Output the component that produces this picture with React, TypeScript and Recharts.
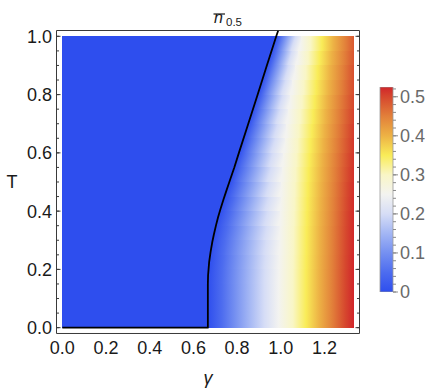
import React from 'react';
import { ComposedChart, BarChart, Bar, XAxis, YAxis, Area, Line, ReferenceArea, Label } from 'recharts';

const FONT = '"Liberation Sans", Arial, Helvetica, sans-serif';
const FRAME = '#3a3a3a';
const TINY = 0.01;

// ---- data extents ----
const gammaMax = 4 / 3;
const tMax = 1;
const xDomain: [number, number] = [-0.02667, 1.36];
const yDomain: [number, number] = [-0.02, 1.02];

// ---- tick labels ----
const xMajorTicks = [0, 0.2, 0.4, 0.6, 0.8, 1.0, 1.2];
const xMinorTicks = [0, 0.05, 0.1, 0.15, 0.2, 0.25, 0.3, 0.35, 0.4, 0.45, 0.5, 0.55, 0.6, 0.65, 0.7, 0.75, 0.8, 0.85, 0.9, 0.95, 1.0, 1.05, 1.1, 1.15, 1.2, 1.25, 1.3, 1.35];
const yMajorTicks = [0, 0.2, 0.4, 0.6, 0.8, 1.0];
const yMinorTicks = [0, 0.05, 0.1, 0.15, 0.2, 0.25, 0.3, 0.35, 0.4, 0.45, 0.5, 0.55, 0.6, 0.65, 0.7, 0.75, 0.8, 0.85, 0.9, 0.95, 1.0];
const barTicks = [0, 0.1, 0.2, 0.3, 0.4, 0.5];
const barMinorTicks = [0, 0.02, 0.04, 0.06, 0.08, 0.1, 0.12, 0.14, 0.16, 0.18, 0.2, 0.22, 0.24, 0.26, 0.28, 0.3, 0.32, 0.34, 0.36, 0.38, 0.4, 0.42, 0.44, 0.46, 0.48, 0.5, 0.52];
const barMax = 0.525;
const legendData = [{ name: 'n', v: barMax }];

// ---- colour map (value -> colour) ----
const cmapValues = [0, 0.05, 0.1, 0.15, 0.2, 0.25, 0.3, 0.35, 0.4, 0.45, 0.5, 0.525];
const cmapColors = ['#2e4eee', '#4d6cef', '#7590f1', '#a3b6f4', '#d6ddf6', '#f3f3f0', '#f9f6c6', '#f9ec58', '#edb245', '#e2803a', '#d6472e', '#d1262b'];

// ---- density field: for each T row, gamma where the value reaches each level ----
const levelValues = [0, 0.05, 0.1, 0.15, 0.2, 0.25, 0.3, 0.35, 0.4, 0.45, 0.5];
const rowT = [0.025, 0.075, 0.125, 0.175, 0.225, 0.275, 0.325, 0.375, 0.425, 0.475, 0.525, 0.575, 0.625, 0.675, 0.725, 0.775, 0.825, 0.875, 0.925, 0.975];
const rowLevels = [
  [0.666, 0.73, 0.79, 0.855, 0.925, 0.99, 1.055, 1.115, 1.175, 1.235, 1.295],
  [0.666, 0.73, 0.79, 0.855, 0.925, 0.99, 1.055, 1.115, 1.175, 1.235, 1.295],
  [0.666, 0.73, 0.79, 0.855, 0.925, 0.99, 1.055, 1.115, 1.175, 1.235, 1.295],
  [0.667, 0.731, 0.791, 0.856, 0.926, 0.991, 1.055, 1.115, 1.175, 1.235, 1.295],
  [0.672, 0.735, 0.794, 0.858, 0.927, 0.992, 1.056, 1.116, 1.176, 1.236, 1.296],
  [0.68, 0.74, 0.798, 0.861, 0.929, 0.994, 1.057, 1.117, 1.177, 1.237, 1.297],
  [0.692, 0.749, 0.806, 0.865, 0.931, 0.995, 1.058, 1.118, 1.178, 1.238, 1.299],
  [0.71, 0.762, 0.815, 0.871, 0.933, 0.997, 1.06, 1.12, 1.18, 1.24, 1.3],
  [0.731, 0.777, 0.826, 0.879, 0.937, 0.999, 1.062, 1.122, 1.182, 1.242, 1.303],
  [0.753, 0.792, 0.838, 0.888, 0.941, 1.001, 1.064, 1.124, 1.184, 1.244, 1.305],
  [0.776, 0.809, 0.852, 0.898, 0.947, 1.005, 1.067, 1.127, 1.187, 1.247, 1.309],
  [0.797, 0.828, 0.867, 0.909, 0.955, 1.01, 1.071, 1.131, 1.19, 1.25, 1.313],
  [0.819, 0.848, 0.884, 0.923, 0.966, 1.017, 1.076, 1.136, 1.195, 1.255, 1.318],
  [0.84, 0.867, 0.901, 0.937, 0.977, 1.025, 1.082, 1.142, 1.2, 1.26, 1.322],
  [0.862, 0.887, 0.918, 0.951, 0.988, 1.033, 1.089, 1.148, 1.206, 1.265, 1.328],
  [0.883, 0.907, 0.935, 0.966, 1.001, 1.042, 1.097, 1.155, 1.212, 1.271],
  [0.905, 0.927, 0.952, 0.981, 1.013, 1.052, 1.105, 1.162, 1.219, 1.278],
  [0.926, 0.947, 0.971, 0.998, 1.027, 1.064, 1.114, 1.169, 1.225, 1.284],
  [0.947, 0.968, 0.991, 1.016, 1.042, 1.077, 1.125, 1.178, 1.232, 1.29],
  [0.968, 0.988, 1.01, 1.033, 1.057, 1.09, 1.136, 1.188, 1.24, 1.296],
];
const rowEdge = [0.525, 0.525, 0.525, 0.525, 0.524, 0.523, 0.522, 0.521, 0.52, 0.518, 0.516, 0.514, 0.511, 0.508, 0.505, 0.499, 0.496, 0.492, 0.487, 0.483];
const SPLIT = 5; // index of the 0.25 level: near-boundary part follows the contour's slant

// ---- boundary contour (gamma_c vs T) ----
const curveT = [0, 0.15, 0.18, 0.226, 0.26, 0.295, 0.32, 0.352, 0.38, 0.409, 0.44, 0.466, 0.506, 0.55, 0.6, 0.7, 0.8, 0.9, 1.0, 1.02];
const curveGamma = [0.666, 0.666, 0.667, 0.672, 0.6785, 0.6865, 0.6935, 0.7035, 0.713, 0.7245, 0.7375, 0.749, 0.767, 0.787, 0.808, 0.851, 0.894, 0.936, 0.979, 0.988];

const lineData = [{ g: 0, T: 0 }, ...curveT.map((t, i) => ({ g: curveGamma[i], T: t }))];
const areaData = [
  { g: 0, T: tMax },
  ...curveT
    .map((t, i) => ({ g: curveGamma[i], T: t }))
    .filter((p) => p.T <= tMax)
    .reverse(),
];

function hexToRgb(h: string) {
  const n = parseInt(h.slice(1), 16);
  return [(n >> 16) & 255, (n >> 8) & 255, n & 255];
}
function cmap(v: number) {
  if (v <= cmapValues[0]) return cmapColors[0];
  const last = cmapValues.length - 1;
  if (v >= cmapValues[last]) return cmapColors[last];
  let k = 0;
  while (v > cmapValues[k + 1]) k++;
  const f = (v - cmapValues[k]) / (cmapValues[k + 1] - cmapValues[k]);
  const a = hexToRgb(cmapColors[k]);
  const b = hexToRgb(cmapColors[k + 1]);
  const c = a.map((x, i) => Math.round(x + (b[i] - x) * f));
  return `rgb(${c[0]},${c[1]},${c[2]})`;
}

const stripLo = (i: number) => (i === 0 ? 0 : (rowT[i - 1] + rowT[i]) / 2);
const stripHi = (i: number) => (i === rowT.length - 1 ? tMax : (rowT[i] + rowT[i + 1]) / 2);
const splitG = (i: number) => rowLevels[i][SPLIT];
const slopeAt = (i: number) => {
  const a = Math.max(0, i - 1);
  const b = Math.min(rowT.length - 1, i + 1);
  return (rowLevels[b][0] - rowLevels[a][0]) / (rowT[b] - rowT[a]);
};
const skewFor = (i: number) => {
  const du = (slopeAt(i) * (stripHi(i) - stripLo(i))) / splitG(i);
  return `translate(${du / 2} 0) skewX(${(-Math.atan(du) * 180) / Math.PI})`;
};

const fmt1 = (v: number) => v.toFixed(1);
const fmtBar = (v: number) => (v === 0 ? '0' : String(v));
const EmptyTick = () => <g />;
const StripShape = (p: any) => (
  <rect x={p.x} y={p.y} width={p.width} height={p.height} fill={p.fill} shapeRendering="crispEdges" />
);

const labelStyle = { fill: '#1a1a1a', fontSize: 18, fontFamily: FONT };
const MARGIN = { top: 30.5, right: 74.5, bottom: 56.5, left: 56.5 };

export default function App() {
  return (
    <div style={{ position: 'absolute', left: 0, top: 0, width: 434, height: 390, background: '#fff', fontFamily: FONT }}>
      <svg width={0} height={0} style={{ position: 'absolute' }}>
        <defs>
          {rowLevels.map((lv, i) => (
            <linearGradient key={`n${i}`} id={`near${i}`} x1="0" y1="0" x2="1" y2="0" gradientTransform={skewFor(i)}>
              {lv.slice(0, SPLIT + 1).map((g, k) => (
                <stop key={k} offset={g / splitG(i)} stopColor={cmap(levelValues[k])} />
              ))}
            </linearGradient>
          ))}
          {rowLevels.map((lv, i) => (
            <linearGradient key={`f${i}`} id={`far${i}`} x1="0" y1="0" x2="1" y2="0">
              {lv.slice(SPLIT).map((g, k) => (
                <stop key={k} offset={(g - splitG(i)) / (gammaMax - splitG(i))} stopColor={cmap(levelValues[k + SPLIT])} />
              ))}
              <stop offset={1} stopColor={cmap(rowEdge[i])} />
            </linearGradient>
          ))}
          <linearGradient id="cbar" x1="0" y1="1" x2="0" y2="0">
            {cmapValues.map((v, k) => (
              <stop key={k} offset={v / barMax} stopColor={cmapColors[k]} />
            ))}
          </linearGradient>
        </defs>
      </svg>

      {/* base: density strips and frame */}
      <div style={{ position: 'absolute', left: 0, top: 0 }}>
        <ComposedChart width={434} height={390} margin={MARGIN}>
          <XAxis xAxisId={0} type="number" dataKey="g" domain={xDomain} allowDataOverflow ticks={xMajorTicks} interval={0}
            height={TINY} tickLine={false} tickSize={0} tickMargin={7.5} axisLine={{ stroke: FRAME }} tick={labelStyle} tickFormatter={fmt1}>
            <Label value="γ" position="bottom" offset={38} style={{ fontStyle: 'italic', fontSize: 18, fill: '#1a1a1a', fontFamily: FONT }} />
          </XAxis>
          <XAxis xAxisId="bMaj" type="number" domain={xDomain} allowDataOverflow ticks={xMajorTicks} interval={0} orientation="bottom" mirror height={TINY} tick={EmptyTick} tickSize={4} axisLine={false} tickLine={{ stroke: FRAME }} />
          <XAxis xAxisId="bMin" type="number" domain={xDomain} allowDataOverflow ticks={xMinorTicks} interval={0} orientation="bottom" mirror height={TINY} tick={EmptyTick} tickSize={2.5} axisLine={false} tickLine={{ stroke: FRAME }} />
          <XAxis xAxisId="tMaj" type="number" domain={xDomain} allowDataOverflow ticks={xMajorTicks} interval={0} orientation="top" mirror height={TINY} tick={EmptyTick} tickSize={4} axisLine={{ stroke: FRAME }} tickLine={{ stroke: FRAME }} />
          <XAxis xAxisId="tMin" type="number" domain={xDomain} allowDataOverflow ticks={xMinorTicks} interval={0} orientation="top" mirror height={TINY} tick={EmptyTick} tickSize={2.5} axisLine={false} tickLine={{ stroke: FRAME }} />

          <YAxis yAxisId={0} type="number" domain={yDomain} allowDataOverflow ticks={yMajorTicks} interval={0}
            width={TINY} tickLine={false} tickSize={0} tickMargin={4.5} axisLine={{ stroke: FRAME }} tick={labelStyle} tickFormatter={fmt1}>
            <Label value="T" position="left" offset={39} style={{ fontSize: 18, fill: '#1a1a1a', fontFamily: FONT }} />
          </YAxis>
          <YAxis yAxisId="lMaj" type="number" domain={yDomain} allowDataOverflow ticks={yMajorTicks} interval={0} orientation="left" mirror width={TINY} tick={EmptyTick} tickSize={4} axisLine={false} tickLine={{ stroke: FRAME }} />
          <YAxis yAxisId="lMin" type="number" domain={yDomain} allowDataOverflow ticks={yMinorTicks} interval={0} orientation="left" mirror width={TINY} tick={EmptyTick} tickSize={2.5} axisLine={false} tickLine={{ stroke: FRAME }} />
          <YAxis yAxisId="rMaj" type="number" domain={yDomain} allowDataOverflow ticks={yMajorTicks} interval={0} orientation="right" mirror width={TINY} tick={EmptyTick} tickSize={4} axisLine={{ stroke: FRAME }} tickLine={{ stroke: FRAME }} />
          <YAxis yAxisId="rMin" type="number" domain={yDomain} allowDataOverflow ticks={yMinorTicks} interval={0} orientation="right" mirror width={TINY} tick={EmptyTick} tickSize={2.5} axisLine={false} tickLine={{ stroke: FRAME }} />

          {rowT.map((t, i) => (
            <ReferenceArea key={`n${i}`} x1={0} x2={splitG(i)} y1={stripLo(i)} y2={stripHi(i)}
              fill={`url(#near${i})`} fillOpacity={1} stroke="none" ifOverflow="visible" shape={StripShape} />
          ))}
          {rowT.map((t, i) => (
            <ReferenceArea key={`f${i}`} x1={splitG(i)} x2={gammaMax} y1={stripLo(i)} y2={stripHi(i)}
              fill={`url(#far${i})`} fillOpacity={1} stroke="none" ifOverflow="visible" shape={StripShape} />
          ))}
        </ComposedChart>
      </div>

      {/* overlay: zero region and boundary contour */}
      <div style={{ position: 'absolute', left: 0, top: 0 }}>
        <ComposedChart width={434} height={390} margin={MARGIN}>
          <XAxis type="number" dataKey="g" domain={xDomain} allowDataOverflow hide />
          <YAxis type="number" domain={yDomain} allowDataOverflow hide />
          <Area data={areaData} dataKey="T" type="linear" fill={cmapColors[0]} fillOpacity={1} stroke="none" isAnimationActive={false} dot={false} activeDot={false} />
          <Line data={lineData} dataKey="T" type="linear" stroke="#000" strokeWidth={1.8} strokeLinejoin="round" dot={false} activeDot={false} isAnimationActive={false} />
        </ComposedChart>
      </div>

      {/* legend bar */}
      <div style={{ position: 'absolute', left: 370, top: 77 }}>
        <BarChart width={64} height={230} data={legendData} margin={{ top: 10, right: 41, bottom: 15, left: 10 }} barCategoryGap={0}>
          <XAxis dataKey="name" hide />
          <YAxis type="number" domain={[0, barMax]} allowDataOverflow orientation="right" width={TINY} ticks={barTicks} interval={0}
            tickSize={5} tickMargin={2} axisLine={false} tickLine={{ stroke: '#8a8a8a' }} tick={{ fill: '#6a6a6a', fontSize: 18, fontFamily: FONT }} tickFormatter={fmtBar} />
          <YAxis yAxisId="minor" type="number" domain={[0, barMax]} allowDataOverflow orientation="right" width={TINY} ticks={barMinorTicks} interval={0}
            tickSize={3} axisLine={false} tickLine={{ stroke: '#8a8a8a' }} tick={EmptyTick} />
          <Bar dataKey="v" fill="url(#cbar)" stroke="#9a9a9a" strokeWidth={0.8} isAnimationActive={false} />
        </BarChart>
      </div>

      <svg width={434} height={32} style={{ position: 'absolute', left: 0, top: 0 }}>
        <text x={214} y={23} fontSize={16} fontStyle="italic" fontFamily={FONT} fill="#1a1a1a">n</text>
        <line x1={213.5} x2={225} y1={14} y2={14} stroke="#1a1a1a" strokeWidth={1.2} />
        <text x={226} y={26} fontSize={11.5} fontFamily={FONT} fill="#1a1a1a">0.5</text>
      </svg>
    </div>
  );
}
